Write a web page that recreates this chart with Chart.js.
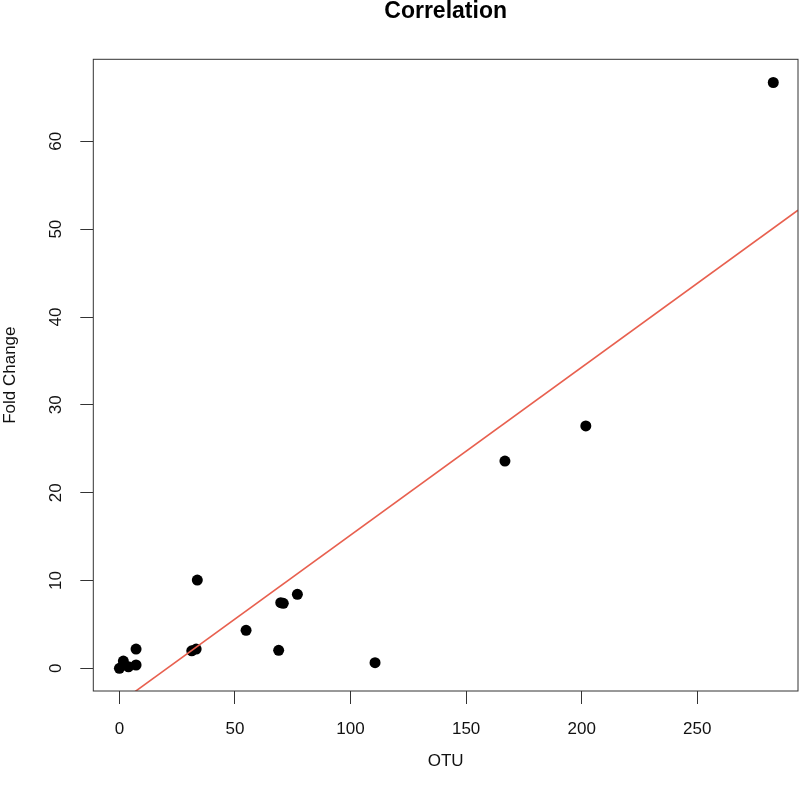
<!DOCTYPE html>
<html>
<head>
<meta charset="utf-8">
<script src="https://cdn.jsdelivr.net/npm/chart.js@4"></script>
<style>
  body { margin: 0; background: #fff; }
  canvas { display: block; }
</style>
</head>
<body>
<canvas id="corrChart" width="800" height="787"></canvas>
<script>
// values
var otu = [0, 1.7, 3.9, 7.2, 7.2, 31.3, 33.2, 33.7, 54.8, 68.9, 69.8, 70.9, 77.0, 110.6, 166.8, 201.8, 282.9];
var foldChange = [0, 0.83, 0.18, 0.38, 2.2, 2.0, 2.2, 10.05, 4.33, 2.05, 7.47, 7.4, 8.43, 0.64, 23.6, 27.6, 66.7];

// fitted line (abline) coefficients
var fitIntercept = -3.94;
var fitSlope = 0.1911;

var xTicks = [0, 50, 100, 150, 200, 250];
var yTicks = [0, 10, 20, 30, 40, 50, 60];
var xRange = [-11.3, 293.6];
var yRange = [-2.58, 69.34];

var fontFamily = '"Liberation Sans", Arial, Helvetica, sans-serif';

document.addEventListener('DOMContentLoaded', function() {
    var points = otu.map(function(x, i) { return { x: x, y: foldChange[i] }; });
    var fitLine = xRange.map(function(x) { return { x: x, y: fitIntercept + fitSlope * x }; });

    // plot box and title, R style
    var frame = {
        id: 'frame',
        afterDraw: function(chart) {
            var ctx = chart.ctx, a = chart.chartArea;
            ctx.save();
            ctx.strokeStyle = '#333';
            ctx.lineWidth = 1;
            ctx.strokeRect(a.left, a.top, a.right - a.left, a.bottom - a.top);
            ctx.fillStyle = '#000';
            ctx.font = 'bold 23px ' + fontFamily;
            ctx.textAlign = 'center';
            ctx.textBaseline = 'middle';
            ctx.fillText('Correlation', (a.left + a.right) / 2, 12);
            ctx.restore();
        }
    };

    var ctx = document.getElementById('corrChart').getContext('2d');
    var corrChart = new Chart(ctx, {
        type: 'scatter',
        data: {
            datasets: [{
                type: 'line',
                data: fitLine,
                borderColor: '#e8604f',
                borderWidth: 1.6,
                pointRadius: 0,
                fill: false
            }, {
                data: points,
                backgroundColor: '#000',
                borderColor: '#000',
                pointRadius: 5.5,
                borderWidth: 0
            }]
        },
        options: {
            responsive: false,
            animation: false,
            layout: { autoPadding: false, padding: { top: 59.3, right: 2, left: 0, bottom: 0 } },
            plugins: {
                legend: { display: false },
                tooltip: { enabled: false }
            },
            scales: {
                x: {
                    type: 'linear',
                    min: xRange[0],
                    max: xRange[1],
                    afterFit: function(scale) { scale.height = 96; },
                    afterBuildTicks: function(scale) {
                        scale.ticks = xTicks.map(function(v) { return { value: v }; });
                    },
                    grid: { drawOnChartArea: false, tickLength: 13, color: '#333' },
                    border: { display: false },
                    ticks: {
                        padding: 15,
                        color: '#111',
                        maxRotation: 0,
                        font: { family: fontFamily, size: 17 }
                    },
                    title: {
                        display: true,
                        text: 'OTU',
                        color: '#111',
                        font: { family: fontFamily, size: 17 },
                        padding: { top: 0, bottom: 15 }
                    }
                },
                y: {
                    type: 'linear',
                    min: yRange[0],
                    max: yRange[1],
                    afterFit: function(scale) { scale.width = 93.3; },
                    afterBuildTicks: function(scale) {
                        scale.ticks = yTicks.map(function(v) { return { value: v }; });
                    },
                    grid: { drawOnChartArea: false, tickLength: 13, color: '#333' },
                    border: { display: false },
                    ticks: {
                        padding: 15,
                        color: '#111',
                        minRotation: 90,
                        maxRotation: 90,
                        crossAlign: 'center',
                        font: { family: fontFamily, size: 17 }
                    },
                    title: {
                        display: true,
                        text: 'Fold Change',
                        color: '#111',
                        font: { family: fontFamily, size: 17 },
                        padding: { top: 0, bottom: 0 }
                    }
                }
            }
        },
        plugins: [frame]
    });
});
</script>
</body>
</html>
